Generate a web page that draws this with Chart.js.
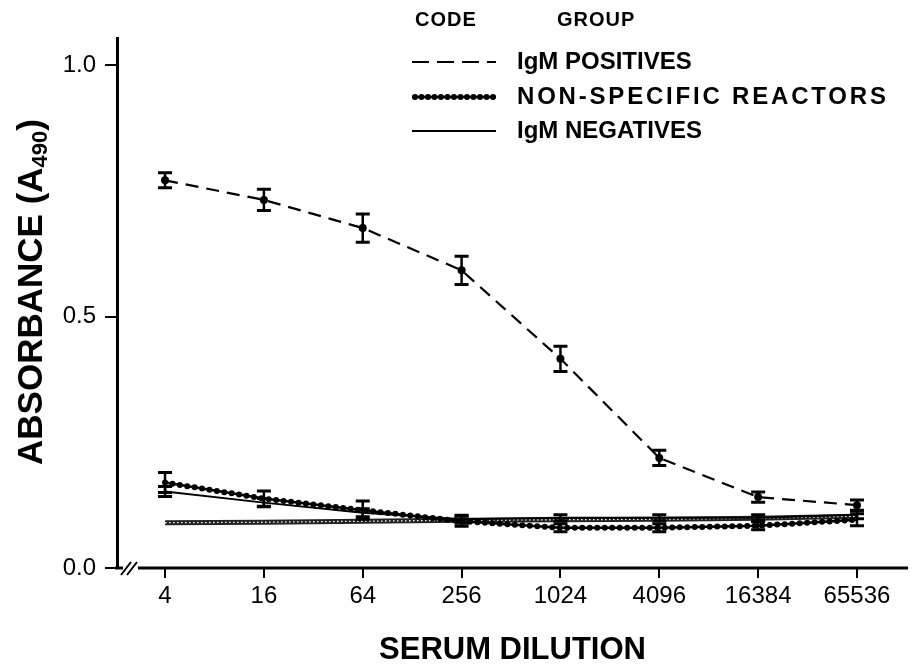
<!DOCTYPE html>
<html lang="en">
<head>
<meta charset="UTF-8" />
<title>Absorbance vs Serum Dilution</title>
<script src="https://cdn.jsdelivr.net/npm/chart.js"></script>
<style>
  body { margin: 0; background: #fff; }
  .chart-box { width: 916px; height: 671px; position: relative; }
</style>
</head>
<body>
<div class="chart-box"><canvas id="absorbanceChart"></canvas></div>

<script>
  // dilution steps (plotted at index 1..8 so they sit evenly spaced)
  const dilutions = [4, 16, 64, 256, 1024, 4096, 16384, 65536];
  const yTicks = [0, 0.5, 1.0];
  const groupLabels = ["IgM POSITIVES", "NON-SPECIFIC REACTORS", "IgM NEGATIVES"];

  const igmPositives    = [0.771, 0.732, 0.676, 0.592, 0.416, 0.219, 0.141, 0.125];
  const igmPositivesErr = [0.015, 0.021, 0.028, 0.028, 0.025, 0.015, 0.010, 0.010];

  const nonSpecific    = [0.170, 0.138, 0.115, 0.093, 0.080, 0.080, 0.084, 0.096];
  const nonSpecificErr = [0.020, 0.015, 0.018, 0.010, 0.008, 0.008, 0.008, 0.012];

  const igmNegatives    = [0.152, 0.130, 0.110, 0.097, 0.100, 0.100, 0.100, 0.106];
  const igmNegativesErr = [0.010, 0.008, 0.008, 0.008, 0.006, 0.006, 0.006, 0.008];

  // the shaded band running along the bottom
  const shadedBand = [0.090, 0.091, 0.093, 0.095, 0.096, 0.097, 0.099, 0.103];

  const toPoints = arr => arr.map((y, i) => ({ x: i + 1, y: y }));

  const errorBars = [
    { values: igmPositives, errs: igmPositivesErr },
    { values: nonSpecific, errs: nonSpecificErr },
    { values: igmNegatives, errs: igmNegativesErr }
  ];

  const errorBarPlugin = {
    id: "errorBars",
    afterDatasetsDraw(chart) {
      const ctx = chart.ctx;
      const xs = chart.scales.x, ys = chart.scales.y;
      ctx.save();
      ctx.strokeStyle = "#000";
      errorBars.forEach(set => {
        set.values.forEach((v, i) => {
          const px = xs.getPixelForValue(i + 1);
          const top = ys.getPixelForValue(v + set.errs[i]);
          const bot = ys.getPixelForValue(v - set.errs[i]);
          ctx.lineWidth = 2.5;
          ctx.beginPath();
          ctx.moveTo(px, top); ctx.lineTo(px, bot);
          ctx.stroke();
          ctx.lineWidth = 3;
          ctx.beginPath();
          ctx.moveTo(px - 7, top); ctx.lineTo(px + 7, top);
          ctx.moveTo(px - 7, bot); ctx.lineTo(px + 7, bot);
          ctx.stroke();
        });
      });
      ctx.restore();
    }
  };

  // x axis line with the break marks, y title with subscript, legend block
  const decorPlugin = {
    id: "decor",
    afterDraw(chart) {
      const ctx = chart.ctx;
      const area = chart.chartArea;
      const y0 = area.bottom;
      ctx.save();
      ctx.strokeStyle = "#000";
      ctx.fillStyle = "#000";

      ctx.lineWidth = 3;
      ctx.beginPath();
      ctx.moveTo(area.left - 2, y0); ctx.lineTo(area.left + 6, y0);
      ctx.moveTo(area.left + 21, y0); ctx.lineTo(area.right, y0);
      ctx.stroke();
      ctx.lineWidth = 2;
      ctx.beginPath();
      ctx.moveTo(area.left + 4, y0 + 7); ctx.lineTo(area.left + 14, y0 - 6);
      ctx.moveTo(area.left + 10, y0 + 7); ctx.lineTo(area.left + 20, y0 - 6);
      ctx.stroke();

      // y title, rotated
      ctx.save();
      ctx.translate(32, 292);
      ctx.rotate(-Math.PI / 2);
      const big = "bold 35px 'Liberation Sans', Arial, sans-serif";
      const small = "bold 22px 'Liberation Sans', Arial, sans-serif";
      ctx.textBaseline = "middle";
      ctx.font = big;
      const w1 = ctx.measureText("ABSORBANCE (A").width;
      const w3 = ctx.measureText(")").width;
      ctx.font = small;
      const w2 = ctx.measureText("490").width;
      let x = -(w1 + w2 + w3) / 2;
      ctx.font = big;
      ctx.fillText("ABSORBANCE (A", x, 0);
      ctx.font = small;
      ctx.fillText("490", x + w1, 9);
      ctx.font = big;
      ctx.fillText(")", x + w1 + w2, 0);
      ctx.restore();

      // legend
      ctx.textBaseline = "middle";
      ctx.font = "bold 20px 'Liberation Sans', Arial, sans-serif";
      ctx.letterSpacing = "1px";
      ctx.fillText("CODE", 415, 20);
      ctx.fillText("GROUP", 557, 20);

      const rowY = [62, 97, 131];
      const spacing = ["0px", "2.8px", "0px"];
      ctx.font = "bold 24px 'Liberation Sans', Arial, sans-serif";
      groupLabels.forEach((label, i) => {
        ctx.letterSpacing = spacing[i];
        ctx.fillText(label, 517, rowY[i]);
      });
      ctx.letterSpacing = "0px";

      const x1 = 412, x2 = 496;
      ctx.lineWidth = 2.2;
      ctx.setLineDash([17, 8]);
      ctx.beginPath(); ctx.moveTo(x1, rowY[0]); ctx.lineTo(x2, rowY[0]); ctx.stroke();
      ctx.setLineDash([]);
      ctx.lineWidth = 2.5;
      ctx.beginPath(); ctx.moveTo(x1, rowY[1]); ctx.lineTo(x2, rowY[1]); ctx.stroke();
      ctx.lineWidth = 6;
      ctx.lineCap = "round";
      ctx.setLineDash([0, 6.5]);
      ctx.beginPath(); ctx.moveTo(x1 + 3, rowY[1]); ctx.lineTo(x2, rowY[1]); ctx.stroke();
      ctx.setLineDash([]);
      ctx.lineCap = "butt";
      ctx.lineWidth = 2;
      ctx.beginPath(); ctx.moveTo(x1, rowY[2]); ctx.lineTo(x2, rowY[2]); ctx.stroke();
      ctx.restore();
    }
  };

  const ctx = document.getElementById("absorbanceChart").getContext("2d");

  // lower "order" is drawn on top
  new Chart(ctx, {
    type: "line",
    data: {
      datasets: [
        { data: toPoints(shadedBand), borderColor: "#222", borderWidth: 5, pointRadius: 0, order: 6 },
        { data: toPoints(shadedBand), borderColor: "#fff", borderWidth: 1.3, borderDash: [1.5, 2.5], pointRadius: 0, order: 5 },
        { label: groupLabels[2], data: toPoints(igmNegatives), borderColor: "#000", borderWidth: 2, pointRadius: 0, order: 4 },
        { label: groupLabels[1], data: toPoints(nonSpecific), borderColor: "#000", borderWidth: 2.5, pointRadius: 0, order: 3 },
        { data: toPoints(nonSpecific), borderColor: "#000", borderWidth: 6, borderDash: [0, 7.5],
          borderCapStyle: "round", pointRadius: 0, order: 2 },
        { label: groupLabels[0], data: toPoints(igmPositives), borderColor: "#000", borderWidth: 2.2,
          borderDash: [13, 8], pointRadius: 4, pointBackgroundColor: "#000", pointBorderWidth: 0, order: 1 }
      ]
    },
    options: {
      responsive: true,
      maintainAspectRatio: false,
      animation: false,
      layout: { padding: { top: 38, right: 8, left: 0, bottom: 0 } },
      plugins: {
        legend: { display: false },
        tooltip: { enabled: false }
      },
      scales: {
        x: {
          type: "linear",
          min: 0.514,
          max: 8.516,
          afterBuildTicks: scale => { scale.ticks = dilutions.map((d, i) => ({ value: i + 1 })); },
          afterFit: scale => { scale.height = 103; },
          grid: { drawOnChartArea: false, drawTicks: true, tickLength: 10, color: "#000", lineWidth: 2 },
          border: { display: false },
          ticks: {
            color: "#000",
            padding: 4,
            maxRotation: 0,
            font: { family: "'Liberation Sans', Arial, sans-serif", size: 24 },
            callback: v => dilutions[v - 1]
          },
          title: {
            display: true,
            text: "SERUM DILUTION",
            color: "#000",
            padding: { top: 0, bottom: 2 },
            font: { family: "'Liberation Sans', Arial, sans-serif", size: 31, weight: "bold" }
          }
        },
        y: {
          min: 0,
          max: 1.054,
          afterBuildTicks: scale => { scale.ticks = yTicks.map(v => ({ value: v })); },
          afterFit: scale => { scale.width = 117; },
          grid: { drawOnChartArea: false, drawTicks: true, tickLength: 12, color: "#000", lineWidth: 2 },
          border: { display: true, color: "#000", width: 3 },
          ticks: {
            color: "#000",
            padding: 9,
            font: { family: "'Liberation Sans', Arial, sans-serif", size: 24 },
            callback: v => v.toFixed(1)
          }
        }
      }
    },
    plugins: [errorBarPlugin, decorPlugin]
  });
</script>
</body>
</html>
